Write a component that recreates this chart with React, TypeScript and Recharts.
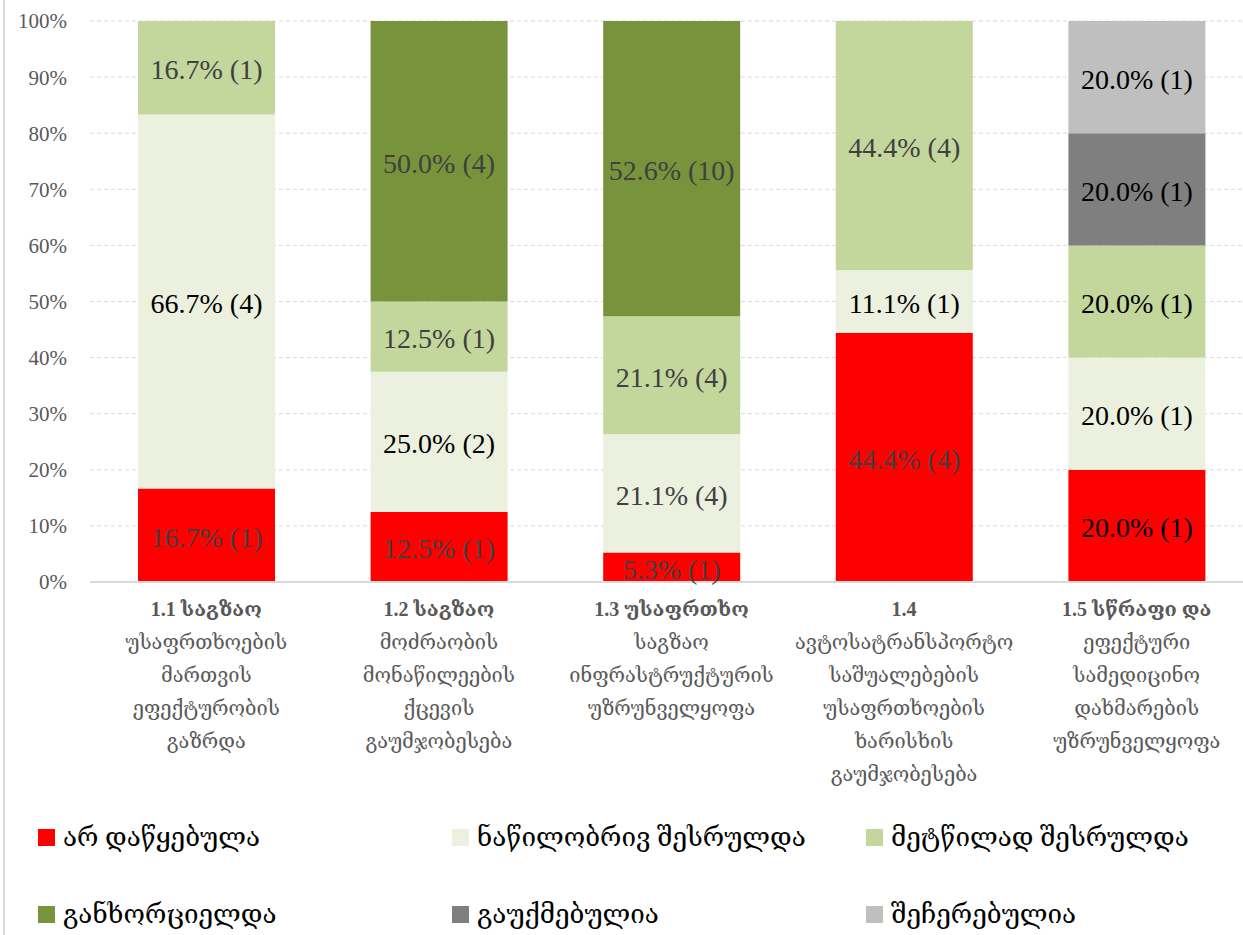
import { BarChart, Bar, XAxis, YAxis, CartesianGrid, Legend, LabelList } from 'recharts';

const categories = [
  ['1.1 საგზაო', 'უსაფრთხოების', 'მართვის', 'ეფექტურობის', 'გაზრდა'],
  ['1.2 საგზაო', 'მოძრაობის', 'მონაწილეების', 'ქცევის', 'გაუმჯობესება'],
  ['1.3 უსაფრთხო', 'საგზაო', 'ინფრასტრუქტურის', 'უზრუნველყოფა'],
  ['1.4', 'ავტოსატრანსპორტო', 'საშუალებების', 'უსაფრთხოების', 'ხარისხის', 'გაუმჯობესება'],
  ['1.5  სწრაფი და', 'ეფექტური', 'სამედიცინო', 'დახმარების', 'უზრუნველყოფა'],
];

// counts per status, in category order
const notStarted = [1, 1, 1, 4, 1];
const partly = [4, 2, 4, 1, 1];
const mostly = [1, 1, 4, 4, 1];
const done = [0, 4, 10, 0, 0];
const cancelled = [0, 0, 0, 0, 1];
const suspended = [0, 0, 0, 0, 1];

const yTicks = [0, 10, 20, 30, 40, 50, 60, 70, 80, 90, 100];

const series = [
  { key: 'notStarted', name: 'არ დაწყებულა', counts: notStarted, color: '#FF0000', ink: ['#404040', '#404040', '#404040', '#404040', '#000'] },
  { key: 'partly', name: 'ნაწილობრივ შესრულდა', counts: partly, color: '#EBF1DE', ink: ['#000', '#000', '#404040', '#000', '#000'] },
  { key: 'mostly', name: 'მეტწილად შესრულდა', counts: mostly, color: '#C3D69B', ink: ['#404040', '#404040', '#404040', '#404040', '#000'] },
  { key: 'done', name: 'განხორციელდა', counts: done, color: '#77933C', ink: ['#404040', '#404040', '#404040', '#404040', '#000'] },
  { key: 'cancelled', name: 'გაუქმებულია', counts: cancelled, color: '#7F7F7F', ink: ['#000', '#000', '#000', '#000', '#000'] },
  { key: 'suspended', name: 'შეჩერებულია', counts: suspended, color: '#BFBFBF', ink: ['#000', '#000', '#000', '#000', '#000'] },
];

const FONT = "'Liberation Serif', 'DejaVu Serif', 'DejaVu Sans', serif";

const data = categories.map((_, i) => {
  const total = series.reduce((s, sr) => s + sr.counts[i], 0);
  const row: Record<string, any> = { cat: String(i) };
  series.forEach((sr) => {
    const c = sr.counts[i];
    const pct = (c / total) * 100;
    row[sr.key] = pct;
    row[sr.key + 'Label'] = c ? `${i}|${pct.toFixed(1)}% (${c})` : '';
  });
  return row;
});

function CatTick({ x, y, payload }: any) {
  const lines = categories[Number(payload.value)];
  return (
    <text x={x} y={y + 26} textAnchor="middle" fill="#595959" fontFamily={FONT} fontSize={20}>
      {lines.map((l, j) => (
        <tspan key={j} x={x} dy={j === 0 ? 0 : 33} fontWeight={j === 0 ? 700 : 400}>{l}</tspan>
      ))}
    </text>
  );
}

function makeLabel(sr: (typeof series)[number]) {
  return (props: any) => {
    const { x, y, width, height, value } = props;
    if (!value) return null;
    const [idx, text] = String(value).split('|');
    return (
      <text
        x={x + width / 2}
        y={y + height / 2 + 2}
        textAnchor="middle"
        dominantBaseline="central"
        fill={sr.ink[Number(idx)]}
        fontFamily={FONT}
        fontSize={28}
      >
        {text}
      </text>
    );
  };
}

function LegendBox() {
  return (
    <div style={{ position: 'relative', width: 1243, height: 135 }}>
      {series.map((sr, i) => {
        const col = i % 3;
        const row = Math.floor(i / 3);
        return (
          <div
            key={sr.key}
            style={{
              position: 'absolute',
              left: 38 + col * 414,
              top: 22 + row * 77,
              display: 'flex',
              alignItems: 'center',
              fontFamily: FONT,
              fontSize: 26,
              color: '#000',
              whiteSpace: 'nowrap',
            }}
          >
            <span style={{ display: 'inline-block', width: 17, height: 17, background: sr.color, marginRight: 8 }} />
            {sr.name}
          </div>
        );
      })}
    </div>
  );
}

export default function App() {
  return (
    <div style={{ position: 'absolute', left: 0, top: 0, width: 1243, height: 935, overflow: 'hidden', background: '#fff' }}>
      <div style={{ position: 'absolute', left: 3, top: 0, width: 2, height: 935, background: '#D9D9D9' }} />
      <BarChart
        width={1261}
        height={935}
        data={data}
        margin={{ top: 21, right: 8, left: 0, bottom: 0 }}
        barSize={137}
      >
        <CartesianGrid vertical={false} stroke="#D9D9D9" strokeDasharray="4 3" />
        <YAxis
          width={90}
          domain={[0, 100]}
          ticks={yTicks}
          tickFormatter={(v: number) => `${v}%`}
          axisLine={false}
          tickLine={false}
          tickMargin={17}
          tick={{ fill: '#595959', fontSize: 21, fontFamily: FONT }}
        />
        <XAxis
          dataKey="cat"
          height={218}
          interval={0}
          tickLine={false}
          axisLine={{ stroke: '#D9D9D9', strokeWidth: 2 }}
          tick={<CatTick />}
        />
        <Legend verticalAlign="bottom" height={135} wrapperStyle={{ left: 0, width: 1243 }} content={() => <LegendBox />} />
        {series.map((sr) => (
          <Bar key={sr.key} dataKey={sr.key} name={sr.name} stackId="s" fill={sr.color} isAnimationActive={false}>
            <LabelList dataKey={sr.key + 'Label'} content={makeLabel(sr)} />
          </Bar>
        ))}
      </BarChart>
    </div>
  );
}
